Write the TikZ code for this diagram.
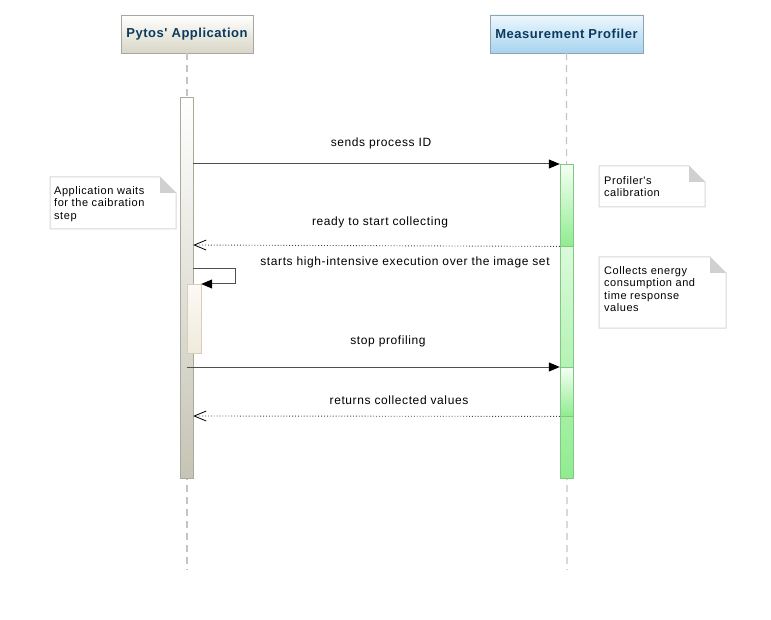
\documentclass[tikz,border=0pt]{standalone}
\usepackage{fontspec}
\setmainfont{Liberation Sans}
\newfontfamily\msgfam[LetterSpace=5]{Liberation Sans}
\newfontfamily\notefam[LetterSpace=5]{Liberation Sans}
\newfontfamily\hdrfam[LetterSpace=4]{Liberation Sans}
\usetikzlibrary{arrows.meta}
\definecolor{hdrtext}{HTML}{0B3A5E}
\definecolor{lifegray}{HTML}{C4C4C4}
\definecolor{msggray}{HTML}{505050}
\definecolor{notegray}{HTML}{D8D8D8}
\definecolor{foldgray}{HTML}{D0D0D0}
\tikzset{
  hdrA/.style={draw=black!35, top color=white, bottom color={rgb,255:red,216;green,214;blue,198}, minimum width=132pt, minimum height=38pt, inner sep=0pt, font=\hdrfam\bfseries\fontsize{13}{15}\selectfont, text=hdrtext},
  hdrB/.style={draw={rgb,255:red,140;green,165;blue,180}, top color={rgb,255:red,238;green,248;blue,253}, bottom color={rgb,255:red,166;green,211;blue,239}, minimum width=153pt, minimum height=38pt, inner sep=0pt, font=\hdrfam\bfseries\fontsize{13}{15}\selectfont, text=hdrtext},
  lifeline/.style={draw=lifegray, line width=1.2pt, dash pattern=on 7pt off 5pt},
  actA/.style={draw={rgb,255:red,170;green,170;blue,155}, top color=white, bottom color={rgb,255:red,198;green,196;blue,180}, minimum width=13pt, inner sep=0pt},
  actN/.style={draw={rgb,255:red,215;green,205;blue,185}, top color={rgb,255:red,252;green,250;blue,245}, bottom color={rgb,255:red,240;green,234;blue,220}, minimum width=14pt, inner sep=0pt},
  actB/.style={draw={rgb,255:red,130;green,200;blue,130}, top color={rgb,255:red,245;green,255;blue,245}, bottom color={rgb,255:red,144;green,236;blue,144}, minimum width=13pt, inner sep=0pt},
  msgfont/.style={font=\msgfam\fontsize{12}{14}\selectfont, inner sep=0pt},
  notefont/.style={font=\notefam\fontsize{11}{12.5}\selectfont, align=left, anchor=north west, inner sep=0pt},
  syncmsg/.style={draw=msggray, line width=1pt, -{Triangle[length=11pt,width=9pt,color=black]}},
  retmsg/.style={draw=black!75, line width=0.9pt, dotted, -{Straight Barb[length=12pt,width=10pt,line width=0.8pt,color=black]}},
  notebox/.style={draw=notegray, fill=white, line width=1pt},
  fold/.style={fill=foldgray, draw=none},
}
\begin{document}
\begin{tikzpicture}[x=1pt,y=-1pt]
\useasboundingbox (0,0) rectangle (771,620);
% headers
\node[hdrA] (hA) at (187,34) {Pytos\char"27\ Application};
\node[hdrB] (hB) at (566.5,34) {Measurement Profiler};
% lifelines
\coordinate (endA) at (187,570);
\coordinate (endB) at (567,570);
\draw[lifeline] (hA.south) -- (endA);
\draw[lifeline] (hB.south) -- (endB);
% activation bars
\node[actA, minimum height=381pt, anchor=north] (aA) at (186.5,97) {};
\node[actB, minimum height=314pt, anchor=north] (aB) at (566.5,164) {};
\node[actB, minimum height=82pt, anchor=north] (aB1) at (566.5,164) {};
\node[actB, minimum height=49pt, anchor=north] (aB2) at (566.5,367) {};
\node[actN, minimum height=69pt, anchor=north] (aN) at (194,284) {};
% message y-levels
\coordinate (y1) at (0,164);
\coordinate (y2) at (0,245);
\coordinate (y3) at (0,269);
\coordinate (y4) at (0,367);
\coordinate (y5) at (0,416);
\coordinate (selfR) at (235,269);
% messages
\draw[syncmsg] (aA.east |- y1) -- (aB1.north west);
\node[msgfont] (l1) at (381,143) {sends process ID};
\draw[retmsg] (aB1.south west) -- (aA.east |- y2);
\node[msgfont] (l2) at (380,222) {ready to start collecting};
\draw[syncmsg] (aA.east |- y3) -- (selfR) |- (aN.north east);
\node[msgfont] (l3) at (405,262) {starts high-intensive execution over the image set};
\draw[syncmsg] (aA.north |- y4) -- (aB2.north west);
\node[msgfont] (l4) at (388,341) {stop profiling};
\draw[retmsg] (aB2.south west) -- (aA.east |- y5);
\node[msgfont] (l5) at (399,400) {returns collected values};
% notes
\draw[notebox] (50,177) -- (160,177) -- (176,193) -- (176,229) -- (50,229) -- cycle;
\fill[fold] (160,177) -- (176,193) -- (160,193) -- cycle;
\node[notefont] (n1) at (54,186) {Application waits\\for the caibration\\step};
\draw[notebox] (599,166) -- (689,166) -- (705,182) -- (705,207) -- (599,207) -- cycle;
\fill[fold] (689,166) -- (705,182) -- (689,182) -- cycle;
\node[notefont] (n2) at (604,176) {Profiler's\\calibration};
\draw[notebox] (599,257) -- (710,257) -- (726,273) -- (726,328) -- (599,328) -- cycle;
\fill[fold] (710,257) -- (726,273) -- (710,273) -- cycle;
\node[notefont] (n3) at (604,266) {Collects energy\\consumption and\\time response\\values};
\end{tikzpicture}
\end{document}
